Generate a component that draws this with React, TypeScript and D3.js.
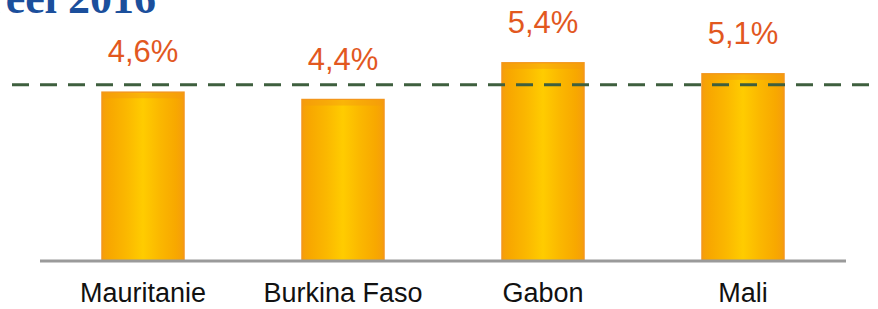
import React from 'react';
import * as d3 from 'd3';

const countries = ['Mauritanie', 'Burkina Faso', 'Gabon', 'Mali'];
const growth = [4.6, 4.4, 5.4, 5.1];
const valueLabels = ['4,6%', '4,4%', '5,4%', '5,1%'];
const referenceLine = [4.8];
const titleText = ['réel 2016'];

const W = 878;
const H = 309;
const baseY = 261;

const App = () => {
  const x = d3.scaleBand<string>()
    .domain(countries)
    .range([43, 843])
    .paddingInner(0.59)
    .paddingOuter(0.295);

  const y = d3.scaleLinear()
    .domain([0, 6])
    .range([baseY, baseY - 6 * 36.7]);

  const bw = x.bandwidth();

  return (
    <svg width={W} height={H} style={{ position: 'absolute', left: 0, top: 0, background: '#fff' }}>
      <defs>
        <linearGradient id="barGrad" x1="0" x2="1" y1="0" y2="0">
          <stop offset="0%" stopColor="#F59E0B" />
          <stop offset="10%" stopColor="#F8A800" />
          <stop offset="30%" stopColor="#FBB800" />
          <stop offset="50%" stopColor="#FFCC00" />
          <stop offset="70%" stopColor="#FBB800" />
          <stop offset="90%" stopColor="#F8A800" />
          <stop offset="100%" stopColor="#F59E0B" />
        </linearGradient>
      </defs>

      {/* title fragment, clipped by the top edge as in the source */}
      <text x={156} y={13} textAnchor="end" fontFamily="'Liberation Serif', serif"
        fontWeight="bold" fontSize={44} fill="#1B4F9C">{titleText[0]}</text>

      {/* bars */}
      {countries.map((c, i) => (
        <g key={c}>
          <rect x={x(c)} y={y(growth[i])} width={bw} height={baseY - y(growth[i])}
            fill="url(#barGrad)" stroke="#F3961C" strokeWidth={1.5} />
          <rect x={x(c)! + 1} y={y(growth[i]) + 1} width={bw - 2} height={5}
            fill="#F39A12" opacity={0.45} />
          <text x={x(c)! + bw / 2} y={y(growth[i]) - 30} textAnchor="middle"
            fontFamily="'Liberation Sans', Arial, sans-serif" fontSize={31} fill="#E2581F">
            {valueLabels[i]}
          </text>
          <text x={x(c)! + bw / 2} y={302} textAnchor="middle"
            fontFamily="'Liberation Sans', Arial, sans-serif" fontSize={27} fill="#111">
            {c}
          </text>
        </g>
      ))}

      {/* baseline */}
      <line x1={40} x2={846} y1={baseY} y2={baseY} stroke="#9A9A9A" strokeWidth={3} />

      {/* reference dashed line */}
      <line x1={12} x2={872} y1={y(referenceLine[0])} y2={y(referenceLine[0])}
        stroke="#3E5F3E" strokeWidth={3} strokeDasharray="17 11" />
    </svg>
  );
};

export default App;
